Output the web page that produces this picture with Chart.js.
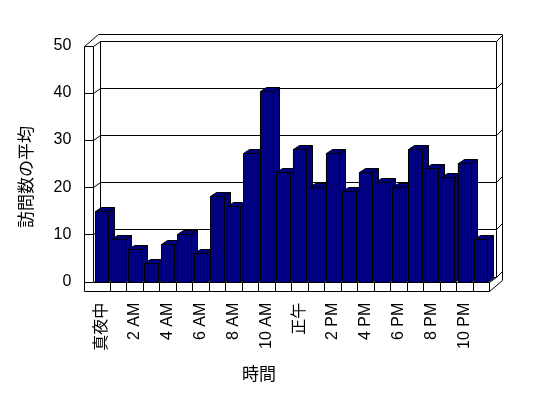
<!DOCTYPE html>
<html>
<head>
<meta charset="utf-8">
<script src="https://cdn.jsdelivr.net/npm/chart.js@4/dist/chart.umd.min.js"></script>
<style>
  html, body { margin: 0; padding: 0; background: #fff; }
  canvas { display: block; }
</style>
</head>
<body>
<canvas id="visits_chart" width="548" height="398"></canvas>
<script>
// hours of the day (only every other label is shown)
const hours = ['真夜中', '1 AM', '2 AM', '3 AM', '4 AM', '5 AM', '6 AM', '7 AM', '8 AM', '9 AM', '10 AM', '11 AM',
               '正午', '1 PM', '2 PM', '3 PM', '4 PM', '5 PM', '6 PM', '7 PM', '8 PM', '9 PM', '10 PM', '11 PM'];
// average visits per hour
const visits = [15, 9, 6.9, 3.9, 7.9, 10, 6, 18.1, 16, 27.2, 40.3, 23.2,
                28, 20, 27.2, 19.1, 23.2, 21, 20, 28, 24, 22.2, 25.1, 9];
const yTicks = [0, 10, 20, 30, 40, 50];
const xTitle = '時間';
const yTitle = '訪問数の平均';

const NAVY = '#000080';
const latinFont = "'Liberation Sans', 'Noto Sans CJK JP', sans-serif";
const cjkFont = "'Noto Sans CJK JP', sans-serif";

function crisp(v){
    return Math.round(v) + 0.5;
}

function seg(ctx, x1, y1, x2, y2){
    ctx.beginPath();
    ctx.moveTo(crisp(x1), crisp(y1));
    ctx.lineTo(crisp(x2), crisp(y2));
    ctx.stroke();
}

function poly(ctx, pts){
    ctx.beginPath();
    pts.forEach((p, i) => {
        if(i === 0) ctx.moveTo(crisp(p[0]), crisp(p[1]));
        else ctx.lineTo(crisp(p[0]), crisp(p[1]));
    });
    ctx.closePath();
    ctx.fill();
    ctx.stroke();
}

// walls + floor of the excel style 3d box
const box3d = {
    id: 'box3d',
    beforeDatasetsDraw(chart){
        const {ctx, chartArea: a, scales} = chart;
        const y = scales.y;
        const L = a.left - 9;        // left wall, front edge
        const bx = a.left + 7;       // back wall left
        const rx = a.right + 7;      // back wall right
        const ox = a.right + 13;     // outer right edge
        const fb = a.bottom + 9;     // floor bottom
        const back = -5;
        const topOuter = a.top - 11.5;

        ctx.save();
        ctx.strokeStyle = '#000';
        ctx.lineWidth = 1;

        // back wall grid
        yTicks.forEach(v => {
            const py = y.getPixelForValue(v);
            seg(ctx, bx, py + back, rx, py + back);
            seg(ctx, rx, py + back, ox, py + back - 6);
            seg(ctx, L, py, a.left, py);
            seg(ctx, a.left, py, bx, py + back);
        });
        const yTop = y.getPixelForValue(50), yZero = y.getPixelForValue(0);
        seg(ctx, bx, yTop + back, bx, yZero + back);
        seg(ctx, rx, yTop + back, rx, yZero + back);
        seg(ctx, L, yTop, bx - 2, topOuter);
        seg(ctx, bx - 2, topOuter, ox, topOuter);
        seg(ctx, ox, topOuter, ox, yZero - 2);

        // left wall front face
        seg(ctx, L, yTop, L, fb);
        seg(ctx, a.left, yTop, a.left, a.bottom);

        // floor
        seg(ctx, a.right, a.bottom, rx, yZero + back);
        seg(ctx, a.right, fb, ox, yZero - 2);
        ctx.restore();
    },
    afterDatasetsDraw(chart){
        const {ctx, chartArea: a} = chart;
        const fb = a.bottom + 9;
        const meta = chart.getDatasetMeta(0);
        const dx = 6, dy = -4;

        ctx.save();
        ctx.fillStyle = '#fff';
        ctx.fillRect(a.left, a.bottom, a.right - a.left, fb - a.bottom + 1);
        ctx.strokeStyle = '#000';
        ctx.lineWidth = 1;
        seg(ctx, a.left - 9, fb, a.right, fb);
        seg(ctx, a.left, a.bottom, a.right, a.bottom);
        seg(ctx, a.right, a.bottom, a.right, fb);
        const step = (a.right - a.left) / hours.length;
        for(let i = 1; i < hours.length; i++){
            seg(ctx, a.left + i * step, a.bottom, a.left + i * step, fb);
        }

        // bar sides, tops and fronts, left to right so each bar hides its neighbour
        ctx.fillStyle = NAVY;
        meta.data.forEach(bar => {
            const l = bar.x - bar.width / 2, r = bar.x + bar.width / 2;
            const t = bar.y, b = bar.base;
            poly(ctx, [[r, t], [r + dx, t + dy], [r + dx, b + dy], [r, b]]);
            poly(ctx, [[l, t], [l + dx, t + dy], [r + dx, t + dy], [r, t]]);
            poly(ctx, [[l, t], [r, t], [r, b], [l, b]]);
        });
        ctx.restore();
    },
    afterDraw(chart){
        const {ctx} = chart;
        ctx.save();
        ctx.fillStyle = '#000';
        ctx.font = "17px " + cjkFont;
        ctx.textAlign = 'center';
        ctx.textBaseline = 'middle';
        ctx.fillText(xTitle, 259, 374);
        ctx.translate(26, 177);
        ctx.rotate(-Math.PI / 2);
        ctx.fillText(yTitle, 0, 0);
        ctx.restore();
    }
};

function initVisitsChart(){
    const ctx = document.getElementById('visits_chart').getContext('2d');
    new Chart(ctx, {
        type: 'bar',
        data: {
            labels: hours,
            datasets: [{
                label: yTitle,
                data: visits,
                backgroundColor: NAVY,
                borderColor: '#000',
                borderWidth: 1,
                barPercentage: 0.81,
                categoryPercentage: 1
            }]
        },
        options: {
            responsive: false,
            animation: false,
            layout: {
                padding: { left: 0, top: 45.5, right: 59, bottom: 0 }
            },
            plugins: {
                legend: { display: false },
                tooltip: { enabled: false }
            },
            scales: {
                x: {
                    grid: { display: false, drawTicks: false },
                    border: { display: false },
                    ticks: {
                        autoSkip: false,
                        minRotation: 90,
                        maxRotation: 90,
                        padding: 21,
                        color: '#000',
                        font: { family: latinFont, size: 16 },
                        callback: function(value, index){
                            return index % 2 === 0 ? hours[index] : '';
                        }
                    },
                    afterFit: function(scale){ scale.height = 116.3; }
                },
                y: {
                    min: 0,
                    max: 50,
                    grid: { display: false, drawTicks: false },
                    border: { display: false },
                    ticks: {
                        stepSize: 10,
                        padding: 22,
                        color: '#000',
                        font: { family: latinFont, size: 16 }
                    },
                    afterFit: function(scale){ scale.width = 93.4; }
                }
            }
        },
        plugins: [box3d]
    });
}

initVisitsChart();
</script>
</body>
</html>
